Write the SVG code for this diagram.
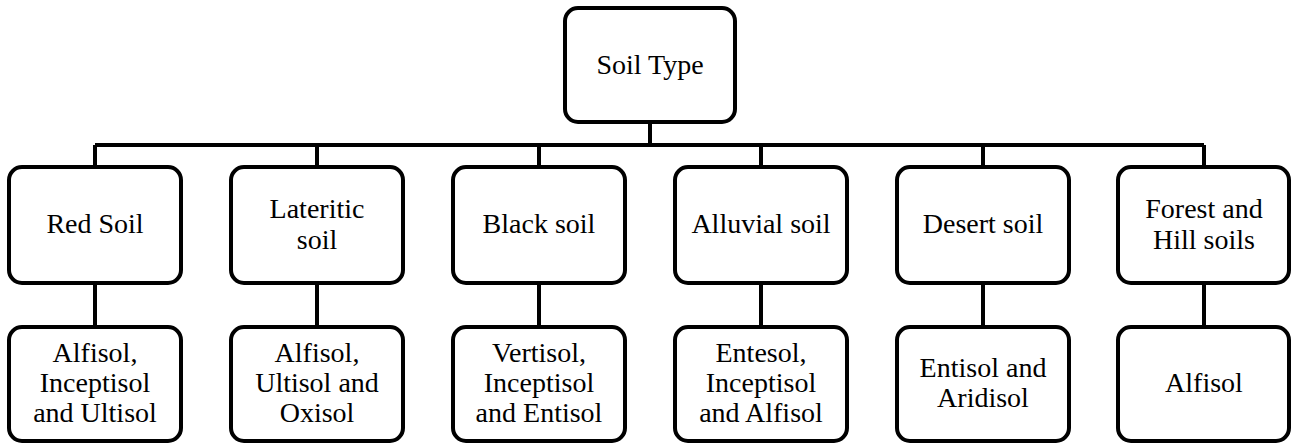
<svg xmlns="http://www.w3.org/2000/svg" width="1291" height="443" viewBox="0 0 1291 443">
  <defs>
    <style>
      .box { fill: #ffffff; stroke: #000000; stroke-width: 4; }
    </style>
  </defs>
  <rect width="1291" height="443" fill="#ffffff"/>

  <!-- connectors -->
  <g id="connectors" fill="none" stroke="#000000" stroke-width="4">
    <path d="M650 122 V145"/>
    <path d="M95 145 H1204"/>
    <path d="M95 145 V167 M317 145 V167 M539 145 V167 M761 145 V167 M983 145 V167 M1204 145 V167"/>
    <path d="M95 283 V327 M317 283 V327 M539 283 V327 M761 283 V327 M983 283 V327 M1204 283 V327"/>
  </g>

  <g text-anchor="middle" fill="#000000">
    <!-- root -->
    <g id="soil-type">
      <rect class="box" x="565" y="8" width="170" height="114" rx="13"/>
      <text x="650" y="74" font-family="serif" font-size="28">Soil Type</text>
    </g>

    <!-- soil classes -->
    <g id="red-soil">
      <rect class="box" x="9" y="167" width="172" height="116" rx="13"/>
      <text x="95" y="233" font-family="serif" font-size="28">Red Soil</text>
    </g>
    <g id="lateritic-soil">
      <rect class="box" x="231" y="167" width="172" height="116" rx="13"/>
      <text x="317" y="218" font-family="serif" font-size="28">Lateritic</text>
      <text x="317" y="249" font-family="serif" font-size="28">soil</text>
    </g>
    <g id="black-soil">
      <rect class="box" x="453" y="167" width="172" height="116" rx="13"/>
      <text x="539" y="233" font-family="serif" font-size="28">Black soil</text>
    </g>
    <g id="alluvial-soil">
      <rect class="box" x="675" y="167" width="172" height="116" rx="13"/>
      <text x="761" y="233" font-family="serif" font-size="28">Alluvial soil</text>
    </g>
    <g id="desert-soil">
      <rect class="box" x="897" y="167" width="172" height="116" rx="13"/>
      <text x="983" y="233" font-family="serif" font-size="28">Desert soil</text>
    </g>
    <g id="forest-hill-soils">
      <rect class="box" x="1118" y="167" width="171" height="116" rx="13"/>
      <text x="1204" y="218" font-family="serif" font-size="28">Forest and</text>
      <text x="1204" y="249" font-family="serif" font-size="28">Hill soils</text>
    </g>

    <!-- soil orders -->
    <g id="red-soil-orders">
      <rect class="box" x="9" y="327" width="172" height="114" rx="13"/>
      <text x="95" y="362" font-family="serif" font-size="28">Alfisol,</text>
      <text x="95" y="392" font-family="serif" font-size="28">Inceptisol</text>
      <text x="95" y="422" font-family="serif" font-size="28">and Ultisol</text>
    </g>
    <g id="lateritic-soil-orders">
      <rect class="box" x="231" y="327" width="172" height="114" rx="13"/>
      <text x="317" y="362" font-family="serif" font-size="28">Alfisol,</text>
      <text x="317" y="392" font-family="serif" font-size="28">Ultisol and</text>
      <text x="317" y="422" font-family="serif" font-size="28">Oxisol</text>
    </g>
    <g id="black-soil-orders">
      <rect class="box" x="453" y="327" width="172" height="114" rx="13"/>
      <text x="539" y="362" font-family="serif" font-size="28">Vertisol,</text>
      <text x="539" y="392" font-family="serif" font-size="28">Inceptisol</text>
      <text x="539" y="422" font-family="serif" font-size="28">and Entisol</text>
    </g>
    <g id="alluvial-soil-orders">
      <rect class="box" x="675" y="327" width="172" height="114" rx="13"/>
      <text x="761" y="362" font-family="serif" font-size="28">Entesol,</text>
      <text x="761" y="392" font-family="serif" font-size="28">Inceptisol</text>
      <text x="761" y="422" font-family="serif" font-size="28">and Alfisol</text>
    </g>
    <g id="desert-soil-orders">
      <rect class="box" x="897" y="327" width="172" height="114" rx="13"/>
      <text x="983" y="377" font-family="serif" font-size="28">Entisol and</text>
      <text x="983" y="407" font-family="serif" font-size="28">Aridisol</text>
    </g>
    <g id="forest-hill-soil-orders">
      <rect class="box" x="1118" y="327" width="171" height="114" rx="13"/>
      <text x="1204" y="392" font-family="serif" font-size="28">Alfisol</text>
    </g>
  </g>
</svg>
